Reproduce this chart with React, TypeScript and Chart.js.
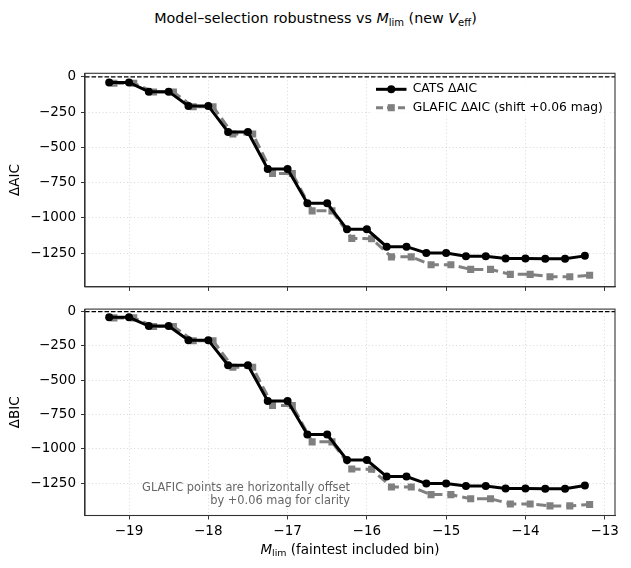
import { useEffect, useRef } from "react";
import { Chart, registerables } from "chart.js";

Chart.register(...registerables);

// ---------------- data ----------------
const mLim = [
  -19.25, -19.0, -18.75, -18.5, -18.25, -18.0, -17.75, -17.5, -17.25, -17.0,
  -16.75, -16.5, -16.25, -16.0, -15.75, -15.5, -15.25, -15.0, -14.75, -14.5,
  -14.25, -14.0, -13.75, -13.5, -13.25,
];
const catsAIC = [
  -40, -40, -105, -105, -206, -206, -391, -391, -653, -653,
  -896, -896, -1081, -1081, -1204, -1204, -1248, -1248, -1271, -1271,
  -1288, -1288, -1290, -1290, -1269,
];
const glaficAIC = [
  -45, -45, -108, -108, -212, -212, -405, -405, -685, -685,
  -950, -950, -1145, -1148, -1276, -1276, -1332, -1332, -1365, -1365,
  -1400, -1400, -1417, -1417, -1407,
];
const catsBIC = [
  -42, -42, -105, -105, -208, -208, -391, -391, -650, -650,
  -895, -895, -1080, -1080, -1201, -1201, -1252, -1252, -1269, -1269,
  -1288, -1288, -1289, -1289, -1265,
];
const glaficBIC = [
  -46, -46, -108, -108, -212, -212, -405, -405, -684, -684,
  -948, -948, -1146, -1148, -1276, -1276, -1332, -1332, -1362, -1362,
  -1400, -1400, -1414, -1414, -1404,
];
const glaficShift = 0.06;
const xTicks = [-19, -18, -17, -16, -15, -14, -13];
const yTicks = [0, -250, -500, -750, -1000, -1250];
const xMin = -19.555;
const xMax = -12.87;
const noteLines = ["GLAFIC points are horizontally offset", "by +0.06 mag for clarity"];

// ---------------- styling ----------------
const FONT = '"DejaVu Sans", "Liberation Sans", sans-serif';
const AXIS_FS = 13.5;
const fmt = (v: number | string) => {
  const n = Number(v);
  return n < 0 ? "\u2212" + String(Math.abs(n)) : String(n);
};

const gridOpts = {
  color: "rgba(170,170,170,0.5)",
  lineWidth: 0.9,
  tickColor: "#333",
  tickLength: 4,
  tickWidth: 1,
  tickBorderDash: [],
};
const borderOpts = { display: true, color: "#333", width: 1.1, dash: [1, 2.5] };

const zeroLinePlugin = {
  id: "zeroLine",
  beforeDatasetsDraw(chart: any) {
    const { ctx, chartArea: a, scales } = chart;
    const y = scales.y.getPixelForValue(0);
    ctx.save();
    ctx.strokeStyle = "#000";
    ctx.lineWidth = 1.2;
    ctx.setLineDash([4.5, 2]);
    ctx.beginPath();
    ctx.moveTo(a.left, y);
    ctx.lineTo(a.right, y);
    ctx.stroke();
    ctx.restore();
  },
};

const framePlugin = {
  id: "frame",
  afterDraw(chart: any) {
    const { ctx, chartArea: a } = chart;
    ctx.save();
    ctx.strokeStyle = "#333";
    ctx.lineWidth = 1.1;
    ctx.strokeRect(a.left, a.top, a.right - a.left, a.bottom - a.top);
    ctx.restore();
  },
};

const legendPlugin = {
  id: "insideLegend",
  afterDatasetsDraw(chart: any) {
    const { ctx, chartArea: a } = chart;
    const ds = chart.data.datasets;
    ctx.save();
    ctx.fillStyle = "rgba(255,255,255,0.85)";
    ctx.fillRect(a.right - 243, a.top + 6.5, 236, 36);
    const rows = [a.top + 16, a.top + 34.4];
    const x0 = a.right - 239;
    const x1 = a.right - 208.5;
    const xm = (x0 + x1) / 2;
    ds.forEach((d: any, i: number) => {
      const y = rows[i];
      ctx.strokeStyle = d.borderColor;
      ctx.lineWidth = d.borderWidth;
      ctx.setLineDash(d.borderDash ? [7, 4] : []);
      ctx.beginPath();
      ctx.moveTo(x0, y);
      ctx.lineTo(x1, y);
      ctx.stroke();
      ctx.setLineDash([]);
      ctx.fillStyle = d.backgroundColor;
      if (d.pointStyle === "rect") {
        const s = d.pointRadius * Math.SQRT1_2;
        ctx.fillRect(xm - s, y - s, 2 * s, 2 * s);
      } else {
        ctx.beginPath();
        ctx.arc(xm, y, d.pointRadius, 0, Math.PI * 2);
        ctx.fill();
      }
      ctx.fillStyle = "#000";
      ctx.font = `12.3px ${FONT}`;
      ctx.textBaseline = "middle";
      ctx.textAlign = "left";
      ctx.fillText(d.label, a.right - 202.3, y);
    });
    ctx.restore();
  },
};

const notePlugin = {
  id: "note",
  afterDatasetsDraw(chart: any) {
    const { ctx, chartArea: a } = chart;
    ctx.save();
    ctx.fillStyle = "#666";
    ctx.font = `11.4px ${FONT}`;
    ctx.textAlign = "right";
    ctx.textBaseline = "middle";
    const x = (a.left + a.right) / 2;
    ctx.fillText(noteLines[0], x, a.bottom - 27.2);
    ctx.fillText(noteLines[1], x, a.bottom - 14.3);
    ctx.restore();
  },
};

type PanelOpts = {
  cats: number[];
  glafic: number[];
  yLabel: string;
  yMin: number;
  yMax: number;
  padTop: number;
  padBottom: number;
  xHeight: number;
  showXLabels: boolean;
  extra: any[];
};

function buildConfig(p: PanelOpts): any {
  return {
    type: "line",
    data: {
      datasets: [
        {
          label: `CATS ${p.yLabel}`,
          data: mLim.map((m, i) => ({ x: m, y: p.cats[i] })),
          borderColor: "#000",
          backgroundColor: "#000",
          borderWidth: 3,
          pointStyle: "circle",
          pointRadius: 4,
          pointBorderWidth: 0,
          pointHoverRadius: 4,
          tension: 0,
        },
        {
          label: `GLAFIC ${p.yLabel} (shift +0.06 mag)`,
          data: mLim.map((m, i) => ({ x: m + glaficShift, y: p.glafic[i] })),
          borderColor: "#808080",
          backgroundColor: "#808080",
          borderWidth: 3,
          borderDash: [10, 5],
          pointStyle: "rect",
          pointRadius: 5,
          pointBorderWidth: 0,
          pointHoverRadius: 5,
          tension: 0,
        },
      ],
    },
    options: {
      responsive: false,
      animation: false,
      events: [],
      layout: { padding: { left: 0, right: 16, top: p.padTop, bottom: p.padBottom } },
      plugins: { legend: { display: false }, tooltip: { enabled: false }, title: { display: false } },
      scales: {
        x: {
          type: "linear",
          min: xMin,
          max: xMax,
          afterBuildTicks: (s: any) => {
            s.ticks = xTicks.map((v) => ({ value: v }));
          },
          afterFit: (s: any) => {
            s.height = p.xHeight;
          },
          ticks: {
            display: p.showXLabels,
            font: { family: FONT, size: AXIS_FS },
            color: "#000",
            padding: 3.5,
            autoSkip: false,
            maxRotation: 0,
            callback: (v: any) => fmt(v),
          },
          grid: gridOpts,
          border: borderOpts,
        },
        y: {
          type: "linear",
          min: p.yMin,
          max: p.yMax,
          afterBuildTicks: (s: any) => {
            s.ticks = yTicks.map((v) => ({ value: v }));
          },
          afterFit: (s: any) => {
            s.width = 85;
          },
          ticks: {
            font: { family: FONT, size: AXIS_FS },
            color: "#000",
            padding: 5,
            autoSkip: false,
            callback: (v: any) => fmt(v),
          },
          title: {
            display: true,
            text: p.yLabel,
            font: { family: FONT, size: AXIS_FS },
            color: "#000",
            padding: { top: 7, bottom: 0 },
          },
          grid: gridOpts,
          border: borderOpts,
        },
      },
    },
    plugins: [zeroLinePlugin, ...p.extra, framePlugin],
  };
}

const subStyle: any = { fontSize: "0.7em", position: "relative", top: "0.25em" };

export default function App() {
  const topRef = useRef<HTMLCanvasElement>(null);
  const botRef = useRef<HTMLCanvasElement>(null);

  useEffect(() => {
    const c1 = new Chart(
      topRef.current as HTMLCanvasElement,
      buildConfig({
        cats: catsAIC,
        glafic: glaficAIC,
        yLabel: "ΔAIC",
        yMin: -1489,
        yMax: 25,
        padTop: 73.3,
        padBottom: 5.7,
        xHeight: 6,
        showXLabels: false,
        extra: [legendPlugin],
      })
    );
    const c2 = new Chart(
      botRef.current as HTMLCanvasElement,
      buildConfig({
        cats: catsBIC,
        glafic: glaficBIC,
        yLabel: "ΔBIC",
        yMin: -1484,
        yMax: 18,
        padTop: 6,
        padBottom: 0,
        xHeight: 52.5,
        showXLabels: true,
        extra: [notePlugin],
      })
    );
    return () => {
      c1.destroy();
      c2.destroy();
    };
  }, []);

  return (
    <div
      style={{
        position: "absolute",
        left: 0,
        top: 0,
        width: 631,
        height: 568,
        background: "#fff",
        fontFamily: FONT,
        color: "#000",
        overflow: "hidden",
      }}
    >
      <div
        style={{
          position: "absolute",
          top: 8,
          left: 0,
          width: 631,
          textAlign: "center",
          fontSize: 14.3,
          lineHeight: "20px",
          whiteSpace: "nowrap",
        }}
      >
        Model–selection robustness vs <i>M</i>
        <span style={subStyle}>lim</span> (new <i>V</i>
        <span style={subStyle}>eff</span>)
      </div>
      <canvas
        ref={topRef}
        width={631}
        height={300}
        style={{ position: "absolute", left: 0, top: 0, width: 631, height: 300 }}
      />
      <canvas
        ref={botRef}
        width={631}
        height={272}
        style={{ position: "absolute", left: 0, top: 296, width: 631, height: 272 }}
      />
      <div
        style={{
          position: "absolute",
          left: 85,
          width: 530,
          top: 540,
          textAlign: "center",
          fontSize: AXIS_FS,
          lineHeight: "18px",
          whiteSpace: "nowrap",
        }}
      >
        <i>M</i>
        <span style={subStyle}>lim</span> (faintest included bin)
      </div>
    </div>
  );
}
